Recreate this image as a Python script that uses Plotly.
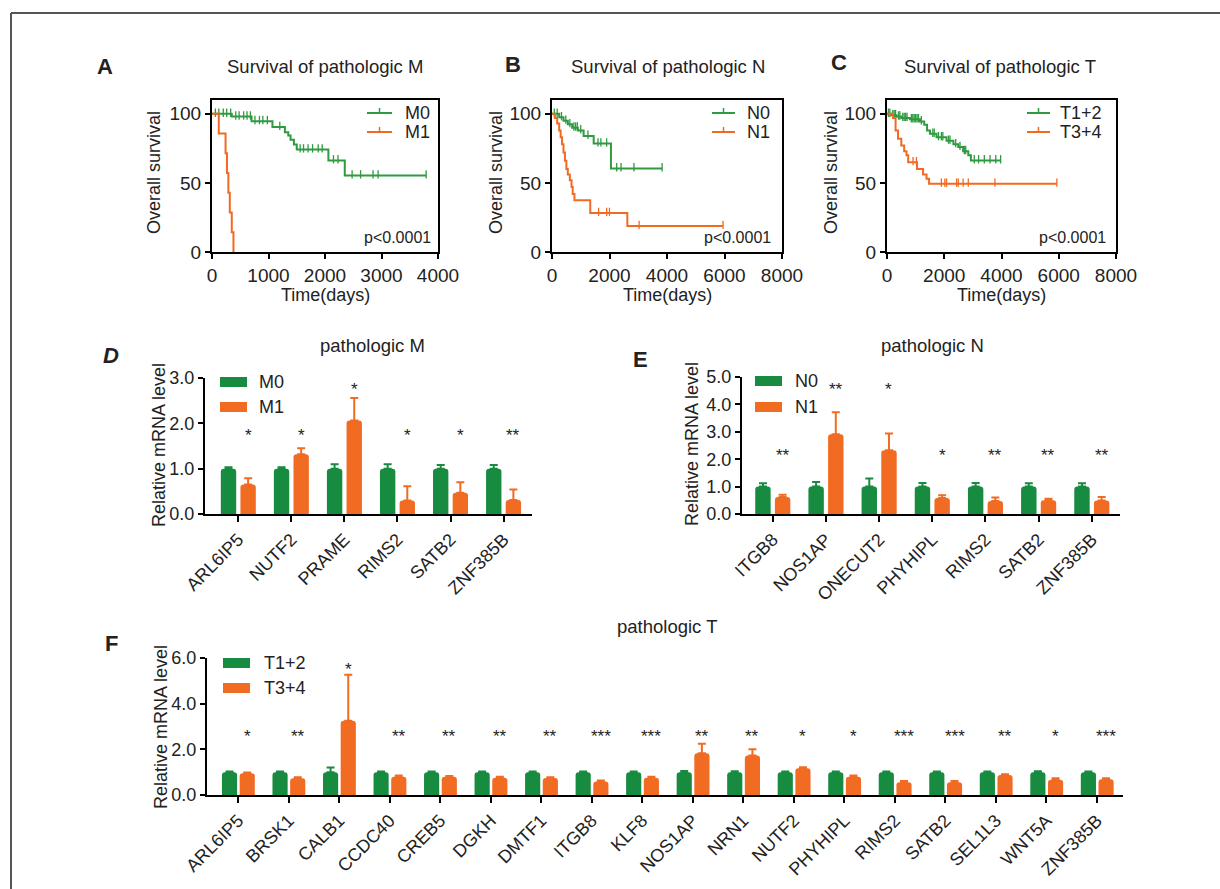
import plotly.graph_objects as go

W, H = 1220, 889
FONT = "Liberation Sans, Arial, sans-serif"
GREEN_KM = "#2f9a40"
ORANGE_KM = "#f26a21"
GREEN = "#178b3f"
ORANGE = "#f26b23"
TXT = "#222222"

# ---------------- Kaplan-Meier data (time in days, survival %) ----------------
m0_time = [0, 350, 700, 1070, 1290, 1350, 1390, 1450, 1500, 2060, 2350, 3790]
m0_surv = [100, 98, 94.7, 90.5, 86.7, 84.3, 81.2, 77.8, 74.2, 66.3, 55.4, 55.4]
m0_cens = [60, 120, 200, 260, 330, 420, 480, 560, 620, 680, 760, 840, 900, 980, 1200,
           1560, 1620, 1700, 1780, 1880, 1950, 2150, 2230, 2480, 2630, 2850, 2940, 3790]
m1_time = [0, 120, 240, 265, 290, 315, 350, 380]
m1_surv = [100, 85.7, 71.4, 57.1, 42.9, 28.6, 14.3, 0]
m1_cens = []

n0_time = [0, 250, 400, 550, 700, 900, 1100, 1450, 2050, 3830]
n0_surv = [100, 97.5, 95, 92.5, 90, 88, 84, 78.5, 60.5, 60.5]
n0_cens = [80, 180, 330, 480, 620, 760, 820, 880, 1000, 1250, 1600, 1700, 1900, 2250, 2400, 2850, 3830]
n1_time = [0, 100, 180, 250, 300, 350, 400, 450, 500, 550, 620, 680, 720, 780, 1330, 2620, 5950]
n1_surv = [100, 97, 93, 88, 83, 78, 72, 66, 60, 56, 52, 47, 42, 37.5, 28.2, 18.8, 18.8]
n1_cens = [1620, 1900, 2000, 3030, 5950]

t12_time = [0, 150, 330, 500, 800, 1150, 1300, 1400, 1500, 1730, 2080, 2320, 2490, 2660, 2840, 2930, 3970]
t12_surv = [100, 99, 98, 97, 96, 94.5, 92, 88, 85.5, 83, 80.5, 78, 76, 73, 70, 66.3, 66.3]
t12_cens = [50, 100, 200, 250, 300, 400, 450, 550, 600, 650, 700, 850, 900, 950, 1000, 1050, 1100,
            1200, 1600, 1650, 1800, 1900, 1950, 2150, 2200, 2400, 2550, 2700, 2750, 3050, 3200,
            3400, 3600, 3800, 3970]
t34_time = [0, 210, 300, 385, 500, 600, 680, 740, 1050, 1260, 1380, 1470, 5934]
t34_surv = [100, 97, 88, 82, 77, 73, 70, 65, 60, 56, 53, 49.4, 49.4]
t34_cens = [910, 1030, 1900, 2020, 2080, 2430, 2490, 2660, 2840, 3770, 5934]

# ---------------- Bar data ----------------
d_genes = ["ARL6IP5", "NUTF2", "PRAME", "RIMS2", "SATB2", "ZNF385B"]
d_m0 = [1.0, 1.0, 1.0, 1.0, 1.0, 1.0]
d_m0_err = [0.03, 0.03, 0.10, 0.10, 0.08, 0.08]
d_m1 = [0.65, 1.32, 2.06, 0.30, 0.47, 0.31]
d_m1_err = [0.14, 0.13, 0.50, 0.31, 0.23, 0.23]
d_sig = ["*", "*", "*", "*", "*", "**"]
d_sig_y = [1.73, 1.73, 2.75, 1.73, 1.73, 1.73]

e_genes = ["ITGB8", "NOS1AP", "ONECUT2", "PHYHIPL", "RIMS2", "SATB2", "ZNF385B"]
e_n0 = [1.0, 1.0, 1.0, 1.0, 1.0, 1.0, 1.0]
e_n0_err = [0.12, 0.17, 0.30, 0.13, 0.13, 0.12, 0.12]
e_n1 = [0.62, 2.91, 2.33, 0.58, 0.47, 0.50, 0.49]
e_n1_err = [0.08, 0.80, 0.61, 0.10, 0.13, 0.06, 0.13]
e_sig = ["**", "**", "*", "*", "**", "**", "**"]
e_sig_y = [2.15, 4.55, 4.55, 2.15, 2.15, 2.15, 2.15]

f_genes = ["ARL6IP5", "BRSK1", "CALB1", "CCDC40", "CREB5", "DGKH", "DMTF1", "ITGB8", "KLF8",
           "NOS1AP", "NRN1", "NUTF2", "PHYHIPL", "RIMS2", "SATB2", "SEL1L3", "WNT5A", "ZNF385B"]
f_t12 = [1.0] * 18
f_t12_err = [0.03, 0.03, 0.20, 0.03, 0.03, 0.03, 0.03, 0.03, 0.03,
             0.05, 0.04, 0.03, 0.03, 0.03, 0.03, 0.03, 0.04, 0.03]
f_t34 = [0.95, 0.73, 3.25, 0.80, 0.80, 0.76, 0.74, 0.59, 0.76,
         1.83, 1.73, 1.17, 0.80, 0.56, 0.56, 0.88, 0.67, 0.69]
f_t34_err = [0.03, 0.05, 2.02, 0.05, 0.03, 0.04, 0.04, 0.04, 0.04,
             0.41, 0.27, 0.04, 0.05, 0.05, 0.05, 0.03, 0.06, 0.04]
f_sig = ["*", "**", "*", "**", "**", "**", "**", "***", "***",
         "**", "**", "*", "*", "***", "***", "**", "*", "***"]
f_sig_y = [2.55, 2.55, 5.49, 2.55, 2.55, 2.55, 2.55, 2.55, 2.55,
           2.55, 2.55, 2.55, 2.55, 2.55, 2.55, 2.55, 2.55, 2.55]


def PX(x):
    return x / W


def PY(y):
    return 1 - y / H


def step_at(ts, ss, t):
    v = ss[0]
    for ti, si in zip(ts, ss):
        if ti <= t:
            v = si
    return v


fig = go.Figure()


def km(ts, ss, cens, color, xa, ya):
    fig.add_trace(go.Scatter(x=ts, y=ss, mode="lines", line=dict(color=color, width=2, shape="hv"),
                             xaxis=xa, yaxis=ya, showlegend=False, hoverinfo="skip"))
    if cens:
        fig.add_trace(go.Scatter(x=cens, y=[step_at(ts, ss, c) + 0.8 for c in cens], mode="markers",
                                 marker=dict(symbol="line-ns", size=6, line=dict(color=color, width=1.3)),
                                 xaxis=xa, yaxis=ya, showlegend=False, hoverinfo="skip"))


km(m0_time, m0_surv, m0_cens, GREEN_KM, "x", "y")
km(m1_time, m1_surv, m1_cens, ORANGE_KM, "x", "y")
km(n0_time, n0_surv, n0_cens, GREEN_KM, "x2", "y2")
km(n1_time, n1_surv, n1_cens, ORANGE_KM, "x2", "y2")
km(t12_time, t12_surv, t12_cens, GREEN_KM, "x3", "y3")
km(t34_time, t34_surv, t34_cens, ORANGE_KM, "x3", "y3")


def bars(vals_a, err_a, vals_b, err_b, xa, ya, off_a, off_b, wid):
    n = len(vals_a)
    xs = list(range(n))
    fig.add_trace(go.Bar(x=xs, y=vals_a, offset=off_a, width=wid,
                         marker=dict(color=GREEN, cornerradius=3, line=dict(width=0)),
                         error_y=dict(type="data", array=err_a, arrayminus=[0] * n, symmetric=False,
                                      color=GREEN, thickness=2, width=4),
                         xaxis=xa, yaxis=ya, showlegend=False, hoverinfo="skip"))
    fig.add_trace(go.Bar(x=xs, y=vals_b, offset=off_b, width=wid,
                         marker=dict(color=ORANGE, cornerradius=3, line=dict(width=0)),
                         error_y=dict(type="data", array=err_b, arrayminus=[0] * n, symmetric=False,
                                      color=ORANGE, thickness=2, width=4),
                         xaxis=xa, yaxis=ya, showlegend=False, hoverinfo="skip"))


bars(d_m0, d_m0_err, d_m1, d_m1_err, "x4", "y4", -0.33, 0.04, 0.29)
bars(e_n0, e_n0_err, e_n1, e_n1_err, "x5", "y5", -0.33, 0.04, 0.29)
bars(f_t12, f_t12_err, f_t34, f_t34_err, "x6", "y6", -0.32, 0.03, 0.30)

annotations = []
shapes = []


def stars(sig, sig_y, xa, ya, shift):
    for i, (s, yv) in enumerate(zip(sig, sig_y)):
        annotations.append(dict(x=i + shift, y=yv, xref=xa, yref=ya, text=s, showarrow=False,
                                font=dict(family=FONT, size=17, color=TXT), xanchor="center", yanchor="middle"))


stars(d_sig, d_sig_y, "x4", "y4", 0.185)
stars(e_sig, e_sig_y, "x5", "y5", 0.185)
stars(f_sig, f_sig_y, "x6", "y6", 0.18)


def txt(x, y, s, size=18, angle=0, xanchor="center"):
    annotations.append(dict(x=PX(x), y=PY(y), xref="paper", yref="paper", text=s, showarrow=False,
                            textangle=angle, xanchor=xanchor, yanchor="middle",
                            font=dict(family=FONT, size=size, color=TXT)))


# Panel letters
txt(105, 66, "<b>A</b>", 22)
txt(513, 64, "<b>B</b>", 22)
txt(839, 63, "<b>C</b>", 22)
txt(111, 355, "<b><i>D</i></b>", 22)
txt(640, 359, "<b>E</b>", 22)
txt(111, 643, "<b>F</b>", 22)

# Panel titles
txt(325, 66, "Survival of pathologic M", 18.5)
txt(668, 66, "Survival of pathologic N", 18.5)
txt(1000, 66, "Survival of pathologic T", 18.5)
txt(372, 345, "pathologic M", 18.5)
txt(932, 345, "pathologic N", 18.5)
txt(667, 626, "pathologic T", 18.5)

# Axis titles
for xc, yl in [(154, 173), (496, 173), (831, 173)]:
    txt(xc, yl, "Overall survival", 18, -90)
for xc in [325, 667, 1001]:
    txt(xc, 295, "Time(days)", 18)
txt(159, 445, "Relative mRNA level", 18, -90)
txt(692, 444, "Relative mRNA level", 18, -90)
txt(161, 727, "Relative mRNA level", 18, -90)

# p-values
for xr in [433, 773, 1108]:
    txt(xr, 238, "p&lt;0.0001", 16, 0, "right")


# KM legends
def km_leg(x0, x1, y, color, label, tx):
    shapes.append(dict(type="line", xref="paper", yref="paper", x0=PX(x0), x1=PX(x1), y0=PY(y), y1=PY(y),
                       line=dict(color=color, width=2)))
    xm = (x0 + x1) / 2
    shapes.append(dict(type="line", xref="paper", yref="paper", x0=PX(xm), x1=PX(xm), y0=PY(y + 1), y1=PY(y - 5),
                       line=dict(color=color, width=1.5)))
    txt(tx, y, label, 18, 0, "left")


km_leg(367, 392, 113, GREEN_KM, "M0", 403)
km_leg(367, 392, 132, ORANGE_KM, "M1", 403)
km_leg(712, 735, 113, GREEN_KM, "N0", 745)
km_leg(712, 735, 132, ORANGE_KM, "N1", 745)
km_leg(1027, 1050, 113, GREEN_KM, "T1+2", 1058)
km_leg(1027, 1050, 132, ORANGE_KM, "T3+4", 1058)


# Bar legends
def bar_leg(x0, x1, y, color, label, tx):
    shapes.append(dict(type="rect", xref="paper", yref="paper", x0=PX(x0), x1=PX(x1), y0=PY(y - 5), y1=PY(y + 5),
                       fillcolor=color, line=dict(width=0)))
    txt(tx, y, label, 18, 0, "left")


bar_leg(220, 247, 382, GREEN, "M0", 257)
bar_leg(220, 247, 407, ORANGE, "M1", 257)
bar_leg(755, 782, 381, GREEN, "N0", 793)
bar_leg(755, 782, 407, ORANGE, "N1", 793)
bar_leg(223, 250, 663, GREEN, "T1+2", 262)
bar_leg(223, 250, 688, ORANGE, "T3+4", 262)

# Outer frame (top and left edges)
shapes.append(dict(type="line", xref="paper", yref="paper", x0=PX(11), x1=1, y0=PY(13), y1=PY(13),
                   line=dict(color="#555555", width=2)))
shapes.append(dict(type="line", xref="paper", yref="paper", x0=PX(11), x1=PX(11), y0=PY(13), y1=0,
                   line=dict(color="#555555", width=2)))

km_font = dict(family=FONT, size=19, color=TXT)
bar_font = dict(family=FONT, size=18, color=TXT)


def km_axes(xd, yd, xmax, dtick):
    xa = dict(domain=[PX(xd[0]), PX(xd[1])], range=[0, xmax], dtick=dtick, showline=True, mirror=True,
              linecolor="black", linewidth=2, ticks="outside", ticklen=5, tickwidth=2, tickcolor="black",
              showgrid=False, zeroline=False, tickfont=km_font, automargin=False)
    ya = dict(domain=[PY(yd[1]), PY(yd[0])], range=[0, 110], tickvals=[0, 50, 100], showline=True, mirror=True,
              linecolor="black", linewidth=2, ticks="outside", ticklen=5, tickwidth=2, tickcolor="black",
              showgrid=False, zeroline=False, tickfont=km_font, automargin=False)
    return xa, ya


def bar_axes(xd, yd, genes, xr, yr, dtick):
    xa = dict(domain=[PX(xd[0]), PX(xd[1])], range=xr, tickvals=list(range(len(genes))), ticktext=genes,
              tickangle=-45, showline=True, linecolor="black", linewidth=2, ticks="outside", ticklen=6,
              tickwidth=2, tickcolor="black", showgrid=False, zeroline=False, tickfont=bar_font, automargin=False)
    ya = dict(domain=[PY(yd[1]), PY(yd[0])], range=yr, dtick=dtick, tickformat=".1f", showline=True,
              linecolor="black", linewidth=2, ticks="outside", ticklen=5, tickwidth=2, tickcolor="black",
              showgrid=False, zeroline=False, tickfont=bar_font, automargin=False)
    return xa, ya


xa1, ya1 = km_axes((212, 438), (100, 252), 4000, 1000)
xa2, ya2 = km_axes((552, 782), (100, 252), 8000, 2000)
xa3, ya3 = km_axes((887, 1116), (100, 252), 8000, 2000)
xa4, ya4 = bar_axes((205, 532), (378, 514), d_genes, [-0.628, 5.536], [0, 3], 1)
xa5, ya5 = bar_axes((742, 1120), (377, 514), e_genes, [-0.579, 6.53], [0, 5], 1)
xa6, ya6 = bar_axes((207, 1123), (658, 795), f_genes, [-0.616, 17.515], [0, 6], 2)

for k, (xa, ya) in enumerate([(xa1, ya1), (xa2, ya2), (xa3, ya3), (xa4, ya4), (xa5, ya5), (xa6, ya6)], 1):
    sfx = "" if k == 1 else str(k)
    xa["anchor"] = "y" + sfx
    ya["anchor"] = "x" + sfx
    fig.update_layout(**{"xaxis" + sfx: xa, "yaxis" + sfx: ya})

fig.update_layout(width=W, height=H, margin=dict(l=0, r=0, t=0, b=0, pad=0, autoexpand=False),
                  paper_bgcolor="white", plot_bgcolor="white", barmode="overlay", showlegend=False,
                  annotations=annotations, shapes=shapes, font=dict(family=FONT, color=TXT))

fig.write_html("out.html")
